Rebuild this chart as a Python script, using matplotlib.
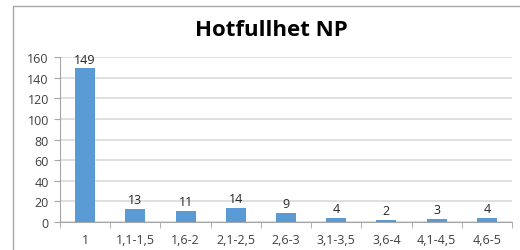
import matplotlib.pyplot as plt
from matplotlib.patches import Rectangle
import numpy as np

# Data
categories = ["1", "1,1-1,5", "1,6-2", "2,1-2,5", "2,6-3", "3,1-3,5", "3,6-4", "4,1-4,5", "4,6-5"]
counts = [149, 13, 11, 14, 9, 4, 2, 3, 4]
yticks = [0, 20, 40, 60, 80, 100, 120, 140, 160]

plt.rcParams['font.family'] = ['Open Sans', 'DejaVu Sans']

fig = plt.figure(figsize=(5.2, 2.51), dpi=100)
# chart border (left and top visible)
fig.patches.append(Rectangle((13/520, -0.1), 1.2, (251-7)/251 + 0.1, transform=fig.transFigure,
                             fill=False, edgecolor='#A6A6A6', linewidth=1.0))

ax = fig.add_axes([60/520, (251-223)/251, (512-60)/520, (223-58)/251])
x = np.arange(len(categories))
bars = ax.bar(x, counts, width=0.4, color='#5B9BD5', zorder=3)

for xi, c in zip(x, counts):
    ax.annotate(str(c), (xi, c), xytext=(0, 2), textcoords='offset points',
                ha='center', va='bottom', fontsize=9, color='#262626')

ax.set_xlim(-0.5, len(categories) - 0.5)
ax.set_ylim(0, 160)
ax.set_yticks(yticks)
ax.yaxis.grid(True, color='#D9D9D9', linewidth=1.2, zorder=0)
ax.set_xticks(x)
ax.set_xticklabels(categories)
ax.set_xticks(np.arange(len(categories) + 1) - 0.5, minor=True)
ax.tick_params(axis='x', which='major', length=0, pad=8, labelsize=9, labelcolor='#404040')
ax.tick_params(axis='x', which='minor', length=4, color='#A6A6A6')
ax.tick_params(axis='y', length=4, color='#A6A6A6', labelsize=9, labelcolor='#404040', pad=4)

for s in ['top', 'right']:
    ax.spines[s].set_visible(False)
ax.spines['left'].set_color('#A6A6A6')
ax.spines['bottom'].set_color('#A6A6A6')

fig.text(271/520, 1 - 31/251, "Hotfullhet NP", ha='center', va='center',
         fontsize=16, fontweight='bold', color='black')

fig.savefig('out.png', dpi=100)
